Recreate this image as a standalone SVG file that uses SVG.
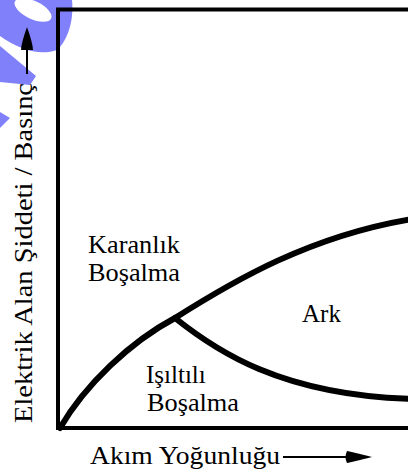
<svg xmlns="http://www.w3.org/2000/svg" width="408" height="474" viewBox="0 0 408 474">
<style>
text{font-family:"Liberation Serif","Times New Roman",serif;font-size:25px;fill:#000}
.ax{fill:none;stroke:#000;stroke-width:4}
.cv{fill:none;stroke:#000;stroke-width:6;stroke-linecap:round}
.ar{fill:none;stroke:#000;stroke-width:2}
.wm{fill:#8080fa}
</style>
<rect width="408" height="474" fill="#fff"/>
<g id="watermark">
<path class="wm" d="M0,0 L72,0 C74,20 68,40 57,50 C40,56 20,50 0,36 Z"/>
<ellipse cx="33" cy="10" rx="20" ry="9" transform="rotate(25 33 10)" fill="#fff"/>
<path class="wm" d="M0,46 L36,76 L30,85 L0,82 Z"/>
<path class="wm" d="M0,112 L10,118 L0,128 Z"/>
</g>
<g id="frame">
<polyline class="ax" points="410,9.5 58,9.5 58,428 410,428"/>
</g>
<g id="connectors">
<path class="cv" d="M60,428 C85,385 130,342 175,318 C235,280 310,236 412,219"/>
<path class="cv" d="M175,318 C215,350 280,395 412,399"/>
<line class="ar" x1="27" y1="74" x2="27" y2="40"/>
<path d="M27,27 Q33,44 33,50 L21,50 Q21,44 27,27 Z" fill="#000"/>
<line class="ar" x1="283" y1="457" x2="350" y2="457"/>
<path d="M347,451 Q352,452 372,457 Q352,462 347,463 Q344,457 347,451 Z" fill="#000"/>
</g>
<g id="yaxis-label">
<text transform="translate(32,423) rotate(-90)" textLength="340" lengthAdjust="spacingAndGlyphs" style="font-size:26px">Elektrik Alan Şiddeti / Basınç</text>
</g>
<g id="karanlik"><text x="88" y="253" textLength="92" lengthAdjust="spacingAndGlyphs">Karanlık</text><text x="88" y="281" textLength="92" lengthAdjust="spacingAndGlyphs">Boşalma</text></g>
<g id="ark"><text x="302" y="322">Ark</text></g>
<g id="isiltili"><text x="146" y="383">Işıltılı</text><text x="147" y="411" textLength="92" lengthAdjust="spacingAndGlyphs">Boşalma</text></g>
<g id="xaxis-label"><text x="90" y="464" textLength="190" lengthAdjust="spacingAndGlyphs">Akım Yoğunluğu</text></g>
</svg>
